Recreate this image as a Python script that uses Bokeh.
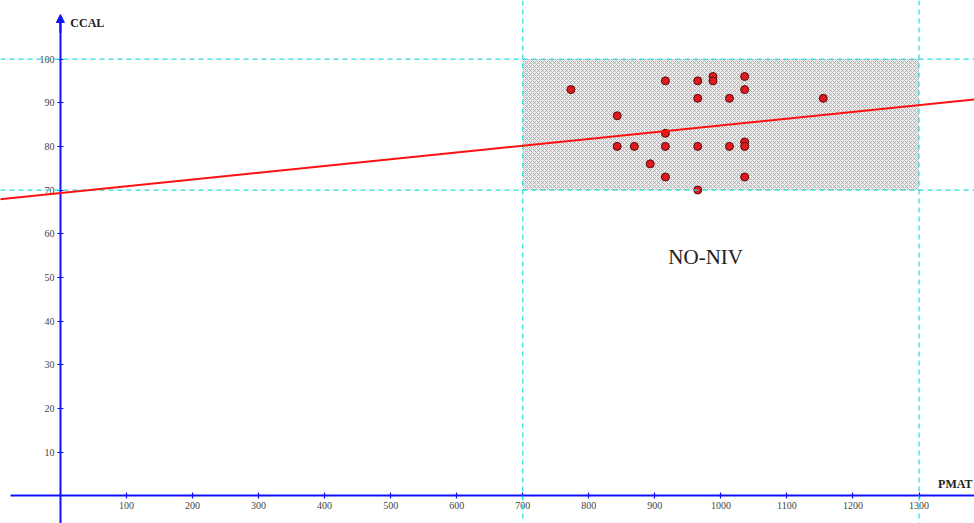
from bokeh.plotting import figure
from bokeh.models import (Range1d, LinearAxis, FixedTicker, Span, Slope, Label,
                          Arrow, NormalHead, ColumnDataSource)
from bokeh.embed import file_html
from bokeh.resources import INLINE

# ---- data ----
pmat = [773, 916, 965, 988, 988, 1036, 1036, 965, 1013, 843, 916, 843, 869,
        916, 965, 1013, 1036, 1036, 893, 916, 1036, 965, 1155]
ccal = [93, 95, 95, 96, 95, 96, 93, 91, 91, 87, 83, 80, 80,
        80, 80, 80, 81, 80, 76, 73, 73, 70, 91]
x_ticks = [100, 200, 300, 400, 500, 600, 700, 800, 900, 1000, 1100, 1200, 1300]
y_ticks = [10, 20, 30, 40, 50, 60, 70, 80, 90, 100]
zone_left = [700]
zone_right = [1300]
zone_bottom = [70]
zone_top = [100]
zone_label = "NO-NIV"
trend_slope = 0.0155
trend_intercept = 69.3
x_title = "PMAT"
y_title = "CCAL"

p = figure(width=974, height=523,
           x_range=Range1d(-90.7, 1384.0), y_range=Range1d(-6.34, 113.4),
           output_backend="svg", toolbar_location=None,
           x_axis_location=None, y_axis_location=None,
           min_border=0, outline_line_color=None)
p.grid.visible = False
p.background_fill_color = "white"

# hatched zone
zone = ColumnDataSource(dict(left=zone_left, right=zone_right,
                             bottom=zone_bottom, top=zone_top))
p.quad(left="left", right="right", bottom="bottom", top="top", source=zone,
       fill_color="#eeeeee", line_color=None,
       hatch_pattern="x", hatch_color="#9a9a9a", hatch_scale=4, hatch_weight=0.7)

# dashed cyan guide lines
cyan = "#22dede"
for v in zone_left + zone_right:
    p.add_layout(Span(location=v, dimension="height", line_color=cyan,
                      line_dash="5 4", line_width=1.2))
for v in zone_bottom + zone_top:
    p.add_layout(Span(location=v, dimension="width", line_color=cyan,
                      line_dash="5 4", line_width=1.2))

# trend line
p.add_layout(Slope(gradient=trend_slope, y_intercept=trend_intercept,
                   line_color="#ff1010", line_width=2))

# points
p.scatter(pmat, ccal, size=8, fill_color="#e0191e", line_color="#5a0a0a",
          line_width=1)

# axes through origin
lab_font = "Liberation Serif"
xa = LinearAxis(fixed_location=0, ticker=FixedTicker(ticks=x_ticks),
                bounds=(-75, 1384))
ya = LinearAxis(fixed_location=0, ticker=FixedTicker(ticks=y_ticks),
                bounds=(-10, 109))
for ax in (xa, ya):
    ax.axis_line_color = "#1010ff"
    ax.axis_line_width = 2
    ax.major_tick_line_color = "#1010ff"
    ax.major_tick_line_width = 1.2
    ax.major_tick_in = 3
    ax.major_tick_out = 3
    ax.minor_tick_line_color = None
    ax.major_label_text_font = lab_font
    ax.major_label_text_font_size = "10px"
    ax.major_label_text_color = "#444444"
    ax.major_label_standoff = 3
p.add_layout(xa, "below")
p.add_layout(ya, "left")

p.add_layout(Arrow(end=NormalHead(size=8, fill_color="#1010ff", line_color="#1010ff"),
                   x_start=0, y_start=106, x_end=0, y_end=110.2,
                   line_color="#1010ff", line_width=2))

p.add_layout(Label(x=15, y=108.2, text=y_title, text_font=lab_font,
                   text_font_style="bold", text_font_size="12px",
                   text_color="#222222", text_baseline="middle"))
p.add_layout(Label(x=1381, y=2.8, text=x_title, text_font=lab_font,
                   text_font_style="bold", text_font_size="12px",
                   text_color="#222222", text_baseline="middle",
                   text_align="right"))
p.add_layout(Label(x=977, y=54.7, text=zone_label, text_font=lab_font,
                   text_font_size="21px", text_color="#222222",
                   text_align="center", text_baseline="middle"))

open("out.html", "w").write(file_html(p, INLINE))
